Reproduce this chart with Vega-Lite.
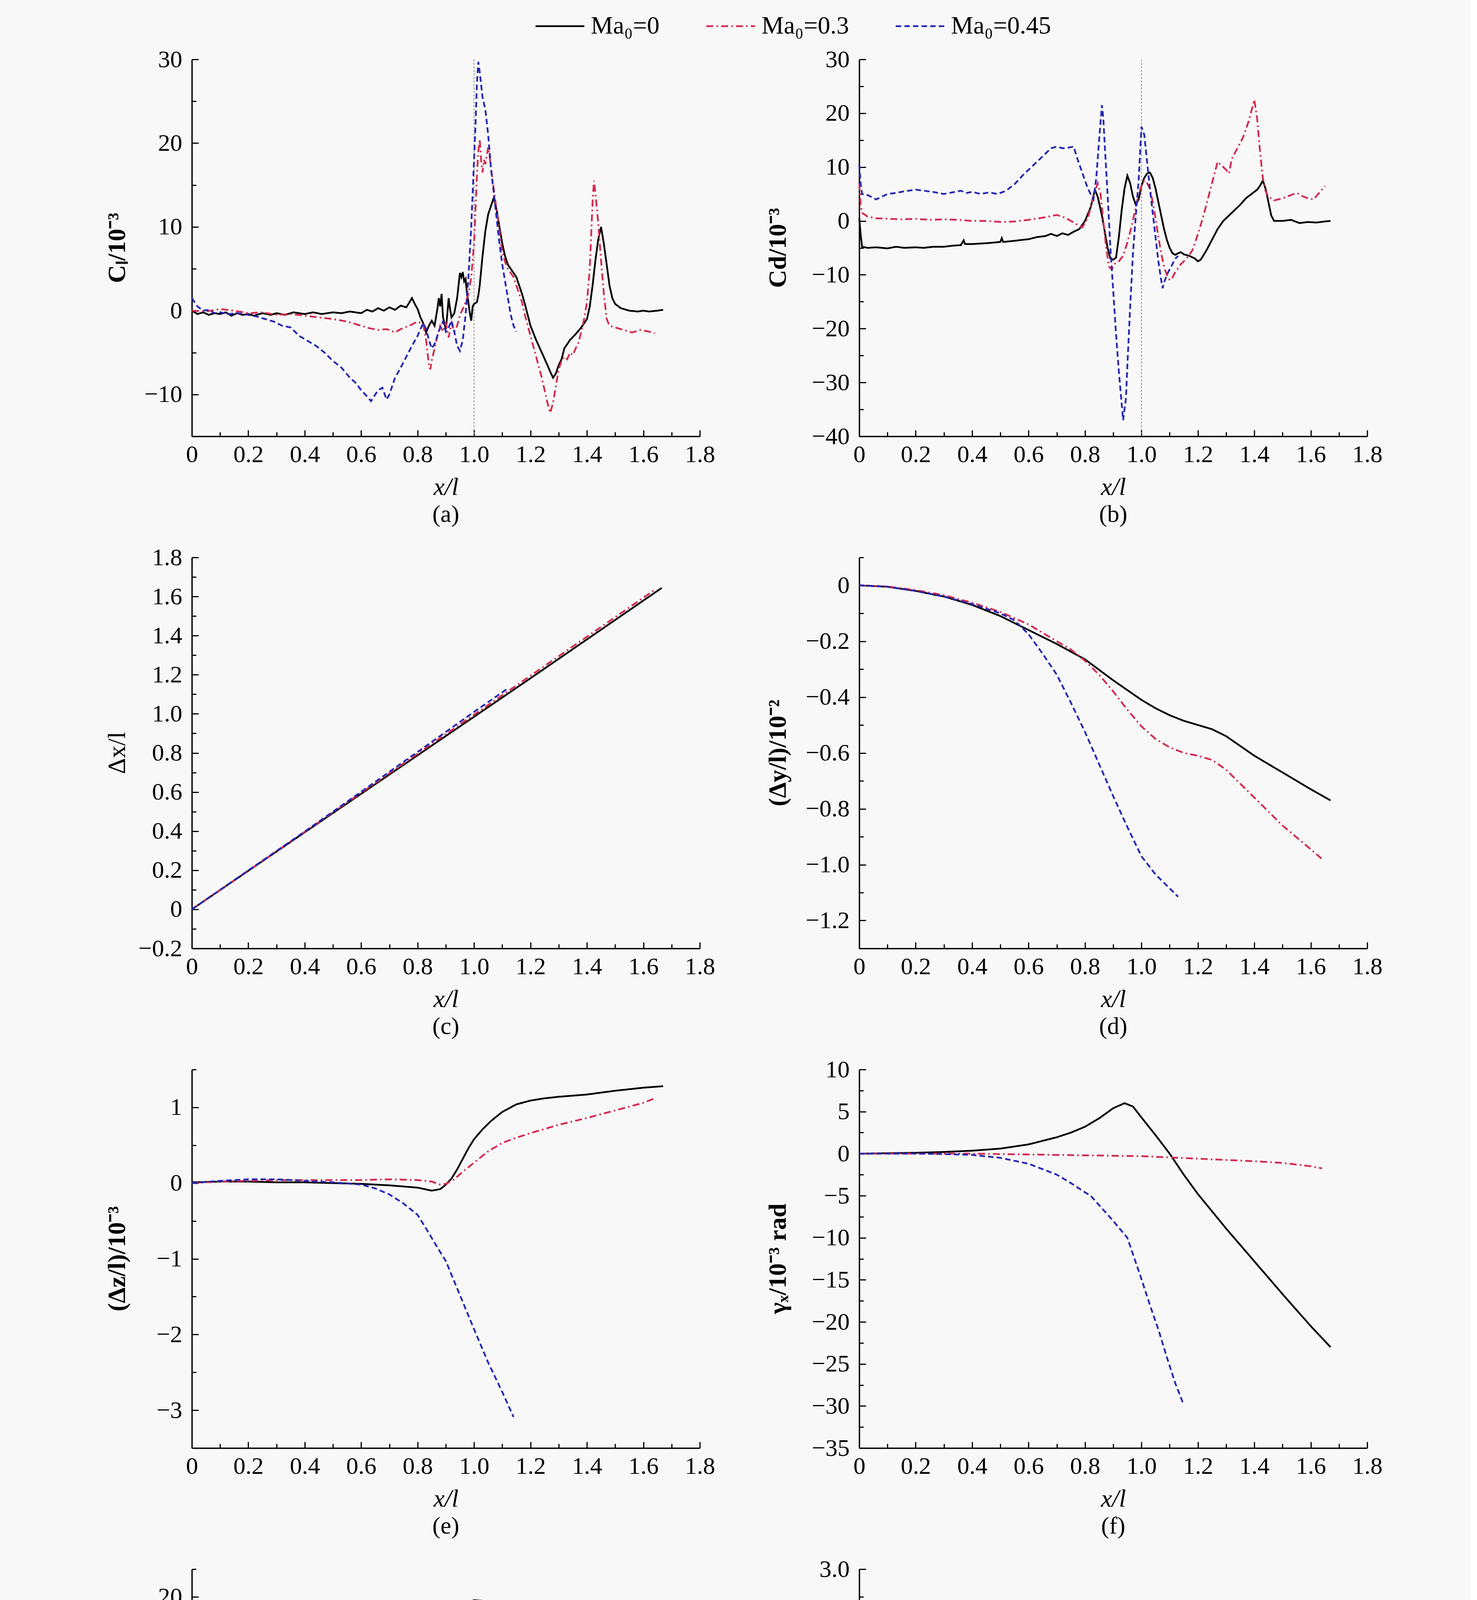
{
  "$schema": "https://vega.github.io/schema/vega-lite/v6.json",
  "background": "#f8f8f8",
  "padding": {"left": 268, "top": 2, "right": 225, "bottom": 4},
  "columns": 2,
  "bounds": "flush",
  "spacing": {"row": 310, "column": 408},
  "data": {
    "values": [
      {"panel":"a","series":"Ma₀=0","x":0,"y":0},{"panel":"a","series":"Ma₀=0","x":0.02,"y":-0.4},{"panel":"a","series":"Ma₀=0","x":0.04,"y":-0.2},{"panel":"a","series":"Ma₀=0","x":0.06,"y":-0.5},{"panel":"a","series":"Ma₀=0","x":0.08,"y":-0.3},{"panel":"a","series":"Ma₀=0","x":0.1,"y":-0.4},{"panel":"a","series":"Ma₀=0","x":0.12,"y":-0.2},{"panel":"a","series":"Ma₀=0","x":0.14,"y":-0.6},{"panel":"a","series":"Ma₀=0","x":0.16,"y":-0.3},{"panel":"a","series":"Ma₀=0","x":0.18,"y":-0.5},{"panel":"a","series":"Ma₀=0","x":0.2,"y":-0.4},{"panel":"a","series":"Ma₀=0","x":0.22,"y":-0.6},{"panel":"a","series":"Ma₀=0","x":0.25,"y":-0.3},{"panel":"a","series":"Ma₀=0","x":0.28,"y":-0.5},{"panel":"a","series":"Ma₀=0","x":0.3,"y":-0.3},{"panel":"a","series":"Ma₀=0","x":0.33,"y":-0.5},{"panel":"a","series":"Ma₀=0","x":0.36,"y":-0.2},{"panel":"a","series":"Ma₀=0","x":0.4,"y":-0.4},{"panel":"a","series":"Ma₀=0","x":0.43,"y":-0.2},{"panel":"a","series":"Ma₀=0","x":0.46,"y":-0.4},{"panel":"a","series":"Ma₀=0","x":0.5,"y":-0.2},{"panel":"a","series":"Ma₀=0","x":0.53,"y":-0.3},{"panel":"a","series":"Ma₀=0","x":0.56,"y":-0.1},{"panel":"a","series":"Ma₀=0","x":0.6,"y":-0.3},{"panel":"a","series":"Ma₀=0","x":0.62,"y":0.1},{"panel":"a","series":"Ma₀=0","x":0.64,"y":-0.1},{"panel":"a","series":"Ma₀=0","x":0.66,"y":0.3},{"panel":"a","series":"Ma₀=0","x":0.68,"y":0},{"panel":"a","series":"Ma₀=0","x":0.7,"y":0.4},{"panel":"a","series":"Ma₀=0","x":0.72,"y":0.1},{"panel":"a","series":"Ma₀=0","x":0.74,"y":0.6},{"panel":"a","series":"Ma₀=0","x":0.76,"y":0.4},{"panel":"a","series":"Ma₀=0","x":0.78,"y":1.5},{"panel":"a","series":"Ma₀=0","x":0.79,"y":0.8},{"panel":"a","series":"Ma₀=0","x":0.8,"y":0.2},{"panel":"a","series":"Ma₀=0","x":0.81,"y":-0.8},{"panel":"a","series":"Ma₀=0","x":0.82,"y":-1.5},{"panel":"a","series":"Ma₀=0","x":0.83,"y":-2.6},{"panel":"a","series":"Ma₀=0","x":0.84,"y":-1.8},{"panel":"a","series":"Ma₀=0","x":0.85,"y":-1.2},{"panel":"a","series":"Ma₀=0","x":0.86,"y":-1.8},{"panel":"a","series":"Ma₀=0","x":0.87,"y":0.2},{"panel":"a","series":"Ma₀=0","x":0.875,"y":1.5},{"panel":"a","series":"Ma₀=0","x":0.88,"y":0.5},{"panel":"a","series":"Ma₀=0","x":0.885,"y":2},{"panel":"a","series":"Ma₀=0","x":0.89,"y":-0.8},{"panel":"a","series":"Ma₀=0","x":0.9,"y":-2.2},{"panel":"a","series":"Ma₀=0","x":0.905,"y":-0.5},{"panel":"a","series":"Ma₀=0","x":0.91,"y":1.5},{"panel":"a","series":"Ma₀=0","x":0.915,"y":0.2},{"panel":"a","series":"Ma₀=0","x":0.92,"y":-0.8},{"panel":"a","series":"Ma₀=0","x":0.93,"y":-0.3},{"panel":"a","series":"Ma₀=0","x":0.94,"y":1.5},{"panel":"a","series":"Ma₀=0","x":0.95,"y":4.5},{"panel":"a","series":"Ma₀=0","x":0.955,"y":4},{"panel":"a","series":"Ma₀=0","x":0.96,"y":4.6},{"panel":"a","series":"Ma₀=0","x":0.965,"y":3.5},{"panel":"a","series":"Ma₀=0","x":0.97,"y":3.8},{"panel":"a","series":"Ma₀=0","x":0.975,"y":2},{"panel":"a","series":"Ma₀=0","x":0.98,"y":1},{"panel":"a","series":"Ma₀=0","x":0.985,"y":-0.3},{"panel":"a","series":"Ma₀=0","x":0.99,"y":-1.2},{"panel":"a","series":"Ma₀=0","x":0.995,"y":0.5},{"panel":"a","series":"Ma₀=0","x":1,"y":0.8},{"panel":"a","series":"Ma₀=0","x":1.01,"y":1},{"panel":"a","series":"Ma₀=0","x":1.015,"y":1.8},{"panel":"a","series":"Ma₀=0","x":1.02,"y":3},{"panel":"a","series":"Ma₀=0","x":1.03,"y":6.5},{"panel":"a","series":"Ma₀=0","x":1.04,"y":9.5},{"panel":"a","series":"Ma₀=0","x":1.05,"y":11.5},{"panel":"a","series":"Ma₀=0","x":1.06,"y":12.5},{"panel":"a","series":"Ma₀=0","x":1.07,"y":13.5},{"panel":"a","series":"Ma₀=0","x":1.075,"y":12.8},{"panel":"a","series":"Ma₀=0","x":1.08,"y":12},{"panel":"a","series":"Ma₀=0","x":1.09,"y":10},{"panel":"a","series":"Ma₀=0","x":1.1,"y":8},{"panel":"a","series":"Ma₀=0","x":1.11,"y":6.5},{"panel":"a","series":"Ma₀=0","x":1.12,"y":5.5},{"panel":"a","series":"Ma₀=0","x":1.13,"y":5},{"panel":"a","series":"Ma₀=0","x":1.14,"y":4.5},{"panel":"a","series":"Ma₀=0","x":1.15,"y":4},{"panel":"a","series":"Ma₀=0","x":1.16,"y":3},{"panel":"a","series":"Ma₀=0","x":1.17,"y":2},{"panel":"a","series":"Ma₀=0","x":1.18,"y":0.8},{"panel":"a","series":"Ma₀=0","x":1.19,"y":-0.5},{"panel":"a","series":"Ma₀=0","x":1.2,"y":-1.8},{"panel":"a","series":"Ma₀=0","x":1.22,"y":-3.5},{"panel":"a","series":"Ma₀=0","x":1.24,"y":-5},{"panel":"a","series":"Ma₀=0","x":1.26,"y":-6.5},{"panel":"a","series":"Ma₀=0","x":1.27,"y":-7.3},{"panel":"a","series":"Ma₀=0","x":1.28,"y":-8},{"panel":"a","series":"Ma₀=0","x":1.29,"y":-7.5},{"panel":"a","series":"Ma₀=0","x":1.3,"y":-6.5},{"panel":"a","series":"Ma₀=0","x":1.31,"y":-5.8},{"panel":"a","series":"Ma₀=0","x":1.32,"y":-4.5},{"panel":"a","series":"Ma₀=0","x":1.34,"y":-3.5},{"panel":"a","series":"Ma₀=0","x":1.36,"y":-2.8},{"panel":"a","series":"Ma₀=0","x":1.38,"y":-2},{"panel":"a","series":"Ma₀=0","x":1.39,"y":-1.5},{"panel":"a","series":"Ma₀=0","x":1.4,"y":-1},{"panel":"a","series":"Ma₀=0","x":1.41,"y":0.5},{"panel":"a","series":"Ma₀=0","x":1.42,"y":3},{"panel":"a","series":"Ma₀=0","x":1.43,"y":6},{"panel":"a","series":"Ma₀=0","x":1.44,"y":8.5},{"panel":"a","series":"Ma₀=0","x":1.45,"y":10},{"panel":"a","series":"Ma₀=0","x":1.46,"y":8},{"panel":"a","series":"Ma₀=0","x":1.47,"y":5.5},{"panel":"a","series":"Ma₀=0","x":1.48,"y":3},{"panel":"a","series":"Ma₀=0","x":1.49,"y":1.5},{"panel":"a","series":"Ma₀=0","x":1.5,"y":0.8},{"panel":"a","series":"Ma₀=0","x":1.52,"y":0.3},{"panel":"a","series":"Ma₀=0","x":1.55,"y":0},{"panel":"a","series":"Ma₀=0","x":1.58,"y":-0.1},{"panel":"a","series":"Ma₀=0","x":1.6,"y":0},{"panel":"a","series":"Ma₀=0","x":1.62,"y":-0.1},{"panel":"a","series":"Ma₀=0","x":1.65,"y":0},{"panel":"a","series":"Ma₀=0","x":1.67,"y":0.1},
      {"panel":"a","series":"Ma₀=0.3","x":0,"y":0},{"panel":"a","series":"Ma₀=0.3","x":0.05,"y":-0.1},{"panel":"a","series":"Ma₀=0.3","x":0.1,"y":0.2},{"panel":"a","series":"Ma₀=0.3","x":0.15,"y":0},{"panel":"a","series":"Ma₀=0.3","x":0.2,"y":-0.3},{"panel":"a","series":"Ma₀=0.3","x":0.25,"y":-0.2},{"panel":"a","series":"Ma₀=0.3","x":0.3,"y":-0.5},{"panel":"a","series":"Ma₀=0.3","x":0.35,"y":-0.4},{"panel":"a","series":"Ma₀=0.3","x":0.4,"y":-0.6},{"panel":"a","series":"Ma₀=0.3","x":0.45,"y":-0.8},{"panel":"a","series":"Ma₀=0.3","x":0.5,"y":-1},{"panel":"a","series":"Ma₀=0.3","x":0.55,"y":-1.3},{"panel":"a","series":"Ma₀=0.3","x":0.6,"y":-1.8},{"panel":"a","series":"Ma₀=0.3","x":0.63,"y":-2.1},{"panel":"a","series":"Ma₀=0.3","x":0.66,"y":-2.3},{"panel":"a","series":"Ma₀=0.3","x":0.69,"y":-2.2},{"panel":"a","series":"Ma₀=0.3","x":0.72,"y":-2.6},{"panel":"a","series":"Ma₀=0.3","x":0.74,"y":-2.2},{"panel":"a","series":"Ma₀=0.3","x":0.77,"y":-1.8},{"panel":"a","series":"Ma₀=0.3","x":0.8,"y":-1.3},{"panel":"a","series":"Ma₀=0.3","x":0.82,"y":-1.6},{"panel":"a","series":"Ma₀=0.3","x":0.83,"y":-3.5},{"panel":"a","series":"Ma₀=0.3","x":0.84,"y":-6.5},{"panel":"a","series":"Ma₀=0.3","x":0.845,"y":-7},{"panel":"a","series":"Ma₀=0.3","x":0.85,"y":-6},{"panel":"a","series":"Ma₀=0.3","x":0.86,"y":-4.5},{"panel":"a","series":"Ma₀=0.3","x":0.87,"y":-3},{"panel":"a","series":"Ma₀=0.3","x":0.88,"y":-1.8},{"panel":"a","series":"Ma₀=0.3","x":0.89,"y":-2.5},{"panel":"a","series":"Ma₀=0.3","x":0.9,"y":-1.5},{"panel":"a","series":"Ma₀=0.3","x":0.91,"y":-3.2},{"panel":"a","series":"Ma₀=0.3","x":0.92,"y":-1.5},{"panel":"a","series":"Ma₀=0.3","x":0.93,"y":-2.5},{"panel":"a","series":"Ma₀=0.3","x":0.94,"y":-1.8},{"panel":"a","series":"Ma₀=0.3","x":0.95,"y":-0.5},{"panel":"a","series":"Ma₀=0.3","x":0.96,"y":0.2},{"panel":"a","series":"Ma₀=0.3","x":0.97,"y":1},{"panel":"a","series":"Ma₀=0.3","x":0.98,"y":2},{"panel":"a","series":"Ma₀=0.3","x":0.99,"y":4},{"panel":"a","series":"Ma₀=0.3","x":1,"y":8},{"panel":"a","series":"Ma₀=0.3","x":1.005,"y":12},{"panel":"a","series":"Ma₀=0.3","x":1.01,"y":16},{"panel":"a","series":"Ma₀=0.3","x":1.015,"y":19},{"panel":"a","series":"Ma₀=0.3","x":1.02,"y":20.5},{"panel":"a","series":"Ma₀=0.3","x":1.025,"y":18},{"panel":"a","series":"Ma₀=0.3","x":1.03,"y":16.5},{"panel":"a","series":"Ma₀=0.3","x":1.035,"y":18},{"panel":"a","series":"Ma₀=0.3","x":1.04,"y":17.5},{"panel":"a","series":"Ma₀=0.3","x":1.05,"y":19.5},{"panel":"a","series":"Ma₀=0.3","x":1.055,"y":18.5},{"panel":"a","series":"Ma₀=0.3","x":1.06,"y":17},{"panel":"a","series":"Ma₀=0.3","x":1.07,"y":14.5},{"panel":"a","series":"Ma₀=0.3","x":1.08,"y":12},{"panel":"a","series":"Ma₀=0.3","x":1.09,"y":9.5},{"panel":"a","series":"Ma₀=0.3","x":1.1,"y":7},{"panel":"a","series":"Ma₀=0.3","x":1.11,"y":5.8},{"panel":"a","series":"Ma₀=0.3","x":1.12,"y":5},{"panel":"a","series":"Ma₀=0.3","x":1.13,"y":4.5},{"panel":"a","series":"Ma₀=0.3","x":1.14,"y":4},{"panel":"a","series":"Ma₀=0.3","x":1.15,"y":3},{"panel":"a","series":"Ma₀=0.3","x":1.16,"y":2},{"panel":"a","series":"Ma₀=0.3","x":1.17,"y":1},{"panel":"a","series":"Ma₀=0.3","x":1.18,"y":-0.5},{"panel":"a","series":"Ma₀=0.3","x":1.2,"y":-3},{"panel":"a","series":"Ma₀=0.3","x":1.22,"y":-5.5},{"panel":"a","series":"Ma₀=0.3","x":1.24,"y":-8},{"panel":"a","series":"Ma₀=0.3","x":1.25,"y":-9.5},{"panel":"a","series":"Ma₀=0.3","x":1.26,"y":-11},{"panel":"a","series":"Ma₀=0.3","x":1.27,"y":-12.2},{"panel":"a","series":"Ma₀=0.3","x":1.28,"y":-11},{"panel":"a","series":"Ma₀=0.3","x":1.29,"y":-9},{"panel":"a","series":"Ma₀=0.3","x":1.3,"y":-7},{"panel":"a","series":"Ma₀=0.3","x":1.31,"y":-6},{"panel":"a","series":"Ma₀=0.3","x":1.32,"y":-5.5},{"panel":"a","series":"Ma₀=0.3","x":1.33,"y":-5.8},{"panel":"a","series":"Ma₀=0.3","x":1.34,"y":-5},{"panel":"a","series":"Ma₀=0.3","x":1.35,"y":-5.3},{"panel":"a","series":"Ma₀=0.3","x":1.36,"y":-4.5},{"panel":"a","series":"Ma₀=0.3","x":1.37,"y":-3.8},{"panel":"a","series":"Ma₀=0.3","x":1.38,"y":-2.5},{"panel":"a","series":"Ma₀=0.3","x":1.39,"y":-1},{"panel":"a","series":"Ma₀=0.3","x":1.4,"y":1},{"panel":"a","series":"Ma₀=0.3","x":1.41,"y":5},{"panel":"a","series":"Ma₀=0.3","x":1.415,"y":9},{"panel":"a","series":"Ma₀=0.3","x":1.42,"y":13},{"panel":"a","series":"Ma₀=0.3","x":1.425,"y":15.5},{"panel":"a","series":"Ma₀=0.3","x":1.43,"y":14},{"panel":"a","series":"Ma₀=0.3","x":1.44,"y":10.5},{"panel":"a","series":"Ma₀=0.3","x":1.45,"y":6},{"panel":"a","series":"Ma₀=0.3","x":1.46,"y":2},{"panel":"a","series":"Ma₀=0.3","x":1.47,"y":-1},{"panel":"a","series":"Ma₀=0.3","x":1.48,"y":-1.8},{"panel":"a","series":"Ma₀=0.3","x":1.5,"y":-2},{"panel":"a","series":"Ma₀=0.3","x":1.53,"y":-2.3},{"panel":"a","series":"Ma₀=0.3","x":1.56,"y":-2.6},{"panel":"a","series":"Ma₀=0.3","x":1.59,"y":-2.3},{"panel":"a","series":"Ma₀=0.3","x":1.62,"y":-2.5},{"panel":"a","series":"Ma₀=0.3","x":1.64,"y":-2.7},
      {"panel":"a","series":"Ma₀=0.45","x":0,"y":1.5},{"panel":"a","series":"Ma₀=0.45","x":0.01,"y":1},{"panel":"a","series":"Ma₀=0.45","x":0.02,"y":0.5},{"panel":"a","series":"Ma₀=0.45","x":0.04,"y":0},{"panel":"a","series":"Ma₀=0.45","x":0.06,"y":0.1},{"panel":"a","series":"Ma₀=0.45","x":0.08,"y":-0.3},{"panel":"a","series":"Ma₀=0.45","x":0.1,"y":-0.2},{"panel":"a","series":"Ma₀=0.45","x":0.13,"y":-0.4},{"panel":"a","series":"Ma₀=0.45","x":0.16,"y":-0.3},{"panel":"a","series":"Ma₀=0.45","x":0.2,"y":-0.5},{"panel":"a","series":"Ma₀=0.45","x":0.23,"y":-0.7},{"panel":"a","series":"Ma₀=0.45","x":0.26,"y":-1},{"panel":"a","series":"Ma₀=0.45","x":0.29,"y":-1.3},{"panel":"a","series":"Ma₀=0.45","x":0.32,"y":-1.8},{"panel":"a","series":"Ma₀=0.45","x":0.35,"y":-2},{"panel":"a","series":"Ma₀=0.45","x":0.38,"y":-3},{"panel":"a","series":"Ma₀=0.45","x":0.41,"y":-3.6},{"panel":"a","series":"Ma₀=0.45","x":0.44,"y":-4.2},{"panel":"a","series":"Ma₀=0.45","x":0.47,"y":-5},{"panel":"a","series":"Ma₀=0.45","x":0.5,"y":-6},{"panel":"a","series":"Ma₀=0.45","x":0.53,"y":-6.8},{"panel":"a","series":"Ma₀=0.45","x":0.56,"y":-8},{"panel":"a","series":"Ma₀=0.45","x":0.58,"y":-8.6},{"panel":"a","series":"Ma₀=0.45","x":0.6,"y":-9.5},{"panel":"a","series":"Ma₀=0.45","x":0.62,"y":-10.2},{"panel":"a","series":"Ma₀=0.45","x":0.635,"y":-10.8},{"panel":"a","series":"Ma₀=0.45","x":0.65,"y":-10},{"panel":"a","series":"Ma₀=0.45","x":0.66,"y":-9.5},{"panel":"a","series":"Ma₀=0.45","x":0.675,"y":-9.2},{"panel":"a","series":"Ma₀=0.45","x":0.69,"y":-10.6},{"panel":"a","series":"Ma₀=0.45","x":0.7,"y":-10},{"panel":"a","series":"Ma₀=0.45","x":0.72,"y":-8},{"panel":"a","series":"Ma₀=0.45","x":0.74,"y":-6.8},{"panel":"a","series":"Ma₀=0.45","x":0.76,"y":-5.5},{"panel":"a","series":"Ma₀=0.45","x":0.78,"y":-4.2},{"panel":"a","series":"Ma₀=0.45","x":0.8,"y":-3},{"panel":"a","series":"Ma₀=0.45","x":0.81,"y":-2.2},{"panel":"a","series":"Ma₀=0.45","x":0.82,"y":-1.5},{"panel":"a","series":"Ma₀=0.45","x":0.83,"y":-2.2},{"panel":"a","series":"Ma₀=0.45","x":0.84,"y":-3.5},{"panel":"a","series":"Ma₀=0.45","x":0.85,"y":-4.5},{"panel":"a","series":"Ma₀=0.45","x":0.86,"y":-4},{"panel":"a","series":"Ma₀=0.45","x":0.87,"y":-3},{"panel":"a","series":"Ma₀=0.45","x":0.88,"y":-2},{"panel":"a","series":"Ma₀=0.45","x":0.89,"y":-1.3},{"panel":"a","series":"Ma₀=0.45","x":0.9,"y":-2.5},{"panel":"a","series":"Ma₀=0.45","x":0.91,"y":-2},{"panel":"a","series":"Ma₀=0.45","x":0.92,"y":-1.2},{"panel":"a","series":"Ma₀=0.45","x":0.93,"y":-2.5},{"panel":"a","series":"Ma₀=0.45","x":0.94,"y":-4.2},{"panel":"a","series":"Ma₀=0.45","x":0.95,"y":-4.8},{"panel":"a","series":"Ma₀=0.45","x":0.96,"y":-3.5},{"panel":"a","series":"Ma₀=0.45","x":0.97,"y":-0.5},{"panel":"a","series":"Ma₀=0.45","x":0.98,"y":4},{"panel":"a","series":"Ma₀=0.45","x":0.99,"y":10},{"panel":"a","series":"Ma₀=0.45","x":1,"y":18},{"panel":"a","series":"Ma₀=0.45","x":1.005,"y":22},{"panel":"a","series":"Ma₀=0.45","x":1.01,"y":27},{"panel":"a","series":"Ma₀=0.45","x":1.015,"y":29.7},{"panel":"a","series":"Ma₀=0.45","x":1.02,"y":28.5},{"panel":"a","series":"Ma₀=0.45","x":1.03,"y":25.5},{"panel":"a","series":"Ma₀=0.45","x":1.04,"y":24},{"panel":"a","series":"Ma₀=0.45","x":1.05,"y":21},{"panel":"a","series":"Ma₀=0.45","x":1.06,"y":17},{"panel":"a","series":"Ma₀=0.45","x":1.07,"y":14},{"panel":"a","series":"Ma₀=0.45","x":1.08,"y":11},{"panel":"a","series":"Ma₀=0.45","x":1.09,"y":8},{"panel":"a","series":"Ma₀=0.45","x":1.1,"y":5.5},{"panel":"a","series":"Ma₀=0.45","x":1.11,"y":3.5},{"panel":"a","series":"Ma₀=0.45","x":1.12,"y":1.5},{"panel":"a","series":"Ma₀=0.45","x":1.13,"y":-0.5},{"panel":"a","series":"Ma₀=0.45","x":1.14,"y":-1.8},{"panel":"a","series":"Ma₀=0.45","x":1.15,"y":-2.5},
      {"panel":"b","series":"Ma₀=0","x":0,"y":0.5},{"panel":"b","series":"Ma₀=0","x":0.005,"y":-2.5},{"panel":"b","series":"Ma₀=0","x":0.01,"y":-4.8},{"panel":"b","series":"Ma₀=0","x":0.03,"y":-5},{"panel":"b","series":"Ma₀=0","x":0.06,"y":-4.9},{"panel":"b","series":"Ma₀=0","x":0.1,"y":-5.1},{"panel":"b","series":"Ma₀=0","x":0.13,"y":-4.8},{"panel":"b","series":"Ma₀=0","x":0.16,"y":-5},{"panel":"b","series":"Ma₀=0","x":0.2,"y":-4.9},{"panel":"b","series":"Ma₀=0","x":0.23,"y":-5},{"panel":"b","series":"Ma₀=0","x":0.26,"y":-4.8},{"panel":"b","series":"Ma₀=0","x":0.3,"y":-4.8},{"panel":"b","series":"Ma₀=0","x":0.33,"y":-4.6},{"panel":"b","series":"Ma₀=0","x":0.36,"y":-4.5},{"panel":"b","series":"Ma₀=0","x":0.37,"y":-3.6},{"panel":"b","series":"Ma₀=0","x":0.375,"y":-4.3},{"panel":"b","series":"Ma₀=0","x":0.4,"y":-4.3},{"panel":"b","series":"Ma₀=0","x":0.43,"y":-4.2},{"panel":"b","series":"Ma₀=0","x":0.46,"y":-4.1},{"panel":"b","series":"Ma₀=0","x":0.5,"y":-3.9},{"panel":"b","series":"Ma₀=0","x":0.505,"y":-3.2},{"panel":"b","series":"Ma₀=0","x":0.51,"y":-3.9},{"panel":"b","series":"Ma₀=0","x":0.55,"y":-3.7},{"panel":"b","series":"Ma₀=0","x":0.58,"y":-3.5},{"panel":"b","series":"Ma₀=0","x":0.6,"y":-3.4},{"panel":"b","series":"Ma₀=0","x":0.63,"y":-3},{"panel":"b","series":"Ma₀=0","x":0.66,"y":-2.8},{"panel":"b","series":"Ma₀=0","x":0.68,"y":-2.4},{"panel":"b","series":"Ma₀=0","x":0.7,"y":-2.8},{"panel":"b","series":"Ma₀=0","x":0.72,"y":-2.3},{"panel":"b","series":"Ma₀=0","x":0.74,"y":-2.6},{"panel":"b","series":"Ma₀=0","x":0.76,"y":-2},{"panel":"b","series":"Ma₀=0","x":0.78,"y":-1.5},{"panel":"b","series":"Ma₀=0","x":0.8,"y":0},{"panel":"b","series":"Ma₀=0","x":0.82,"y":2.5},{"panel":"b","series":"Ma₀=0","x":0.835,"y":5.8},{"panel":"b","series":"Ma₀=0","x":0.845,"y":4.5},{"panel":"b","series":"Ma₀=0","x":0.86,"y":1},{"panel":"b","series":"Ma₀=0","x":0.87,"y":-2},{"panel":"b","series":"Ma₀=0","x":0.88,"y":-5},{"panel":"b","series":"Ma₀=0","x":0.89,"y":-7},{"panel":"b","series":"Ma₀=0","x":0.9,"y":-7.2},{"panel":"b","series":"Ma₀=0","x":0.91,"y":-6.8},{"panel":"b","series":"Ma₀=0","x":0.92,"y":-3},{"panel":"b","series":"Ma₀=0","x":0.93,"y":2},{"panel":"b","series":"Ma₀=0","x":0.94,"y":6},{"panel":"b","series":"Ma₀=0","x":0.95,"y":8.4},{"panel":"b","series":"Ma₀=0","x":0.96,"y":7},{"panel":"b","series":"Ma₀=0","x":0.97,"y":4.5},{"panel":"b","series":"Ma₀=0","x":0.98,"y":3},{"panel":"b","series":"Ma₀=0","x":0.99,"y":4},{"panel":"b","series":"Ma₀=0","x":1,"y":6.5},{"panel":"b","series":"Ma₀=0","x":1.01,"y":8},{"panel":"b","series":"Ma₀=0","x":1.02,"y":8.8},{"panel":"b","series":"Ma₀=0","x":1.03,"y":9},{"panel":"b","series":"Ma₀=0","x":1.04,"y":8},{"panel":"b","series":"Ma₀=0","x":1.05,"y":6},{"panel":"b","series":"Ma₀=0","x":1.06,"y":3.5},{"panel":"b","series":"Ma₀=0","x":1.07,"y":1},{"panel":"b","series":"Ma₀=0","x":1.08,"y":-1.5},{"panel":"b","series":"Ma₀=0","x":1.09,"y":-3.5},{"panel":"b","series":"Ma₀=0","x":1.1,"y":-5},{"panel":"b","series":"Ma₀=0","x":1.11,"y":-6},{"panel":"b","series":"Ma₀=0","x":1.12,"y":-6.3},{"panel":"b","series":"Ma₀=0","x":1.13,"y":-6},{"panel":"b","series":"Ma₀=0","x":1.14,"y":-5.8},{"panel":"b","series":"Ma₀=0","x":1.15,"y":-6.2},{"panel":"b","series":"Ma₀=0","x":1.17,"y":-6.5},{"panel":"b","series":"Ma₀=0","x":1.19,"y":-7},{"panel":"b","series":"Ma₀=0","x":1.2,"y":-7.5},{"panel":"b","series":"Ma₀=0","x":1.21,"y":-7.2},{"panel":"b","series":"Ma₀=0","x":1.23,"y":-5.5},{"panel":"b","series":"Ma₀=0","x":1.25,"y":-3.5},{"panel":"b","series":"Ma₀=0","x":1.27,"y":-1.5},{"panel":"b","series":"Ma₀=0","x":1.29,"y":0},{"panel":"b","series":"Ma₀=0","x":1.31,"y":1},{"panel":"b","series":"Ma₀=0","x":1.33,"y":2},{"panel":"b","series":"Ma₀=0","x":1.35,"y":3},{"panel":"b","series":"Ma₀=0","x":1.37,"y":4.2},{"panel":"b","series":"Ma₀=0","x":1.39,"y":5},{"panel":"b","series":"Ma₀=0","x":1.41,"y":5.8},{"panel":"b","series":"Ma₀=0","x":1.42,"y":6.5},{"panel":"b","series":"Ma₀=0","x":1.43,"y":7.5},{"panel":"b","series":"Ma₀=0","x":1.44,"y":6},{"panel":"b","series":"Ma₀=0","x":1.45,"y":3.5},{"panel":"b","series":"Ma₀=0","x":1.46,"y":1},{"panel":"b","series":"Ma₀=0","x":1.47,"y":0},{"panel":"b","series":"Ma₀=0","x":1.5,"y":0},{"panel":"b","series":"Ma₀=0","x":1.53,"y":0.2},{"panel":"b","series":"Ma₀=0","x":1.56,"y":-0.4},{"panel":"b","series":"Ma₀=0","x":1.59,"y":-0.2},{"panel":"b","series":"Ma₀=0","x":1.62,"y":-0.3},{"panel":"b","series":"Ma₀=0","x":1.65,"y":-0.1},{"panel":"b","series":"Ma₀=0","x":1.67,"y":0},
      {"panel":"b","series":"Ma₀=0.3","x":0,"y":7},{"panel":"b","series":"Ma₀=0.3","x":0.005,"y":3},{"panel":"b","series":"Ma₀=0.3","x":0.01,"y":1.5},{"panel":"b","series":"Ma₀=0.3","x":0.03,"y":0.8},{"panel":"b","series":"Ma₀=0.3","x":0.06,"y":0.5},{"panel":"b","series":"Ma₀=0.3","x":0.1,"y":0.4},{"panel":"b","series":"Ma₀=0.3","x":0.15,"y":0.3},{"panel":"b","series":"Ma₀=0.3","x":0.2,"y":0.4},{"panel":"b","series":"Ma₀=0.3","x":0.25,"y":0.2},{"panel":"b","series":"Ma₀=0.3","x":0.3,"y":0.3},{"panel":"b","series":"Ma₀=0.3","x":0.35,"y":0.2},{"panel":"b","series":"Ma₀=0.3","x":0.4,"y":0},{"panel":"b","series":"Ma₀=0.3","x":0.45,"y":0},{"panel":"b","series":"Ma₀=0.3","x":0.5,"y":-0.2},{"panel":"b","series":"Ma₀=0.3","x":0.55,"y":-0.1},{"panel":"b","series":"Ma₀=0.3","x":0.6,"y":0.2},{"panel":"b","series":"Ma₀=0.3","x":0.65,"y":0.6},{"panel":"b","series":"Ma₀=0.3","x":0.7,"y":1.1},{"panel":"b","series":"Ma₀=0.3","x":0.73,"y":0.6},{"panel":"b","series":"Ma₀=0.3","x":0.76,"y":-0.3},{"panel":"b","series":"Ma₀=0.3","x":0.79,"y":-1.2},{"panel":"b","series":"Ma₀=0.3","x":0.81,"y":0.5},{"panel":"b","series":"Ma₀=0.3","x":0.83,"y":4.5},{"panel":"b","series":"Ma₀=0.3","x":0.845,"y":7},{"panel":"b","series":"Ma₀=0.3","x":0.855,"y":5},{"panel":"b","series":"Ma₀=0.3","x":0.865,"y":0},{"panel":"b","series":"Ma₀=0.3","x":0.875,"y":-5},{"panel":"b","series":"Ma₀=0.3","x":0.885,"y":-8.5},{"panel":"b","series":"Ma₀=0.3","x":0.895,"y":-9},{"panel":"b","series":"Ma₀=0.3","x":0.905,"y":-8},{"panel":"b","series":"Ma₀=0.3","x":0.92,"y":-7.5},{"panel":"b","series":"Ma₀=0.3","x":0.935,"y":-6.5},{"panel":"b","series":"Ma₀=0.3","x":0.95,"y":-4},{"panel":"b","series":"Ma₀=0.3","x":0.965,"y":-1},{"panel":"b","series":"Ma₀=0.3","x":0.98,"y":2.5},{"panel":"b","series":"Ma₀=0.3","x":0.99,"y":5},{"panel":"b","series":"Ma₀=0.3","x":1,"y":6.5},{"panel":"b","series":"Ma₀=0.3","x":1.01,"y":7.5},{"panel":"b","series":"Ma₀=0.3","x":1.02,"y":7},{"panel":"b","series":"Ma₀=0.3","x":1.03,"y":6},{"panel":"b","series":"Ma₀=0.3","x":1.04,"y":3.5},{"panel":"b","series":"Ma₀=0.3","x":1.05,"y":0.5},{"panel":"b","series":"Ma₀=0.3","x":1.06,"y":-3},{"panel":"b","series":"Ma₀=0.3","x":1.07,"y":-6},{"panel":"b","series":"Ma₀=0.3","x":1.08,"y":-8.5},{"panel":"b","series":"Ma₀=0.3","x":1.09,"y":-10},{"panel":"b","series":"Ma₀=0.3","x":1.1,"y":-11},{"panel":"b","series":"Ma₀=0.3","x":1.11,"y":-10.5},{"panel":"b","series":"Ma₀=0.3","x":1.12,"y":-9.5},{"panel":"b","series":"Ma₀=0.3","x":1.14,"y":-8},{"panel":"b","series":"Ma₀=0.3","x":1.16,"y":-7},{"panel":"b","series":"Ma₀=0.3","x":1.18,"y":-5.5},{"panel":"b","series":"Ma₀=0.3","x":1.2,"y":-2.5},{"panel":"b","series":"Ma₀=0.3","x":1.22,"y":1},{"panel":"b","series":"Ma₀=0.3","x":1.24,"y":5},{"panel":"b","series":"Ma₀=0.3","x":1.26,"y":9},{"panel":"b","series":"Ma₀=0.3","x":1.27,"y":11},{"panel":"b","series":"Ma₀=0.3","x":1.28,"y":10.5},{"panel":"b","series":"Ma₀=0.3","x":1.3,"y":9.5},{"panel":"b","series":"Ma₀=0.3","x":1.31,"y":8.8},{"panel":"b","series":"Ma₀=0.3","x":1.32,"y":11.5},{"panel":"b","series":"Ma₀=0.3","x":1.34,"y":13.5},{"panel":"b","series":"Ma₀=0.3","x":1.36,"y":15.5},{"panel":"b","series":"Ma₀=0.3","x":1.38,"y":18.5},{"panel":"b","series":"Ma₀=0.3","x":1.39,"y":20.5},{"panel":"b","series":"Ma₀=0.3","x":1.4,"y":22.5},{"panel":"b","series":"Ma₀=0.3","x":1.41,"y":19},{"panel":"b","series":"Ma₀=0.3","x":1.42,"y":13},{"panel":"b","series":"Ma₀=0.3","x":1.43,"y":8},{"panel":"b","series":"Ma₀=0.3","x":1.44,"y":5.5},{"panel":"b","series":"Ma₀=0.3","x":1.45,"y":4.5},{"panel":"b","series":"Ma₀=0.3","x":1.47,"y":3.8},{"panel":"b","series":"Ma₀=0.3","x":1.5,"y":4.2},{"panel":"b","series":"Ma₀=0.3","x":1.53,"y":4.8},{"panel":"b","series":"Ma₀=0.3","x":1.55,"y":5.2},{"panel":"b","series":"Ma₀=0.3","x":1.57,"y":4.6},{"panel":"b","series":"Ma₀=0.3","x":1.59,"y":4.2},{"panel":"b","series":"Ma₀=0.3","x":1.61,"y":4},{"panel":"b","series":"Ma₀=0.3","x":1.63,"y":5.2},{"panel":"b","series":"Ma₀=0.3","x":1.65,"y":6.5},
      {"panel":"b","series":"Ma₀=0.45","x":0,"y":10.5},{"panel":"b","series":"Ma₀=0.45","x":0.005,"y":7},{"panel":"b","series":"Ma₀=0.45","x":0.01,"y":5},{"panel":"b","series":"Ma₀=0.45","x":0.03,"y":4.8},{"panel":"b","series":"Ma₀=0.45","x":0.06,"y":4},{"panel":"b","series":"Ma₀=0.45","x":0.08,"y":4.5},{"panel":"b","series":"Ma₀=0.45","x":0.1,"y":5},{"panel":"b","series":"Ma₀=0.45","x":0.13,"y":5.2},{"panel":"b","series":"Ma₀=0.45","x":0.16,"y":5.5},{"panel":"b","series":"Ma₀=0.45","x":0.2,"y":5.8},{"panel":"b","series":"Ma₀=0.45","x":0.23,"y":5.6},{"panel":"b","series":"Ma₀=0.45","x":0.26,"y":5.4},{"panel":"b","series":"Ma₀=0.45","x":0.3,"y":5},{"panel":"b","series":"Ma₀=0.45","x":0.33,"y":5.3},{"panel":"b","series":"Ma₀=0.45","x":0.36,"y":5.6},{"panel":"b","series":"Ma₀=0.45","x":0.38,"y":5.2},{"panel":"b","series":"Ma₀=0.45","x":0.4,"y":5.4},{"panel":"b","series":"Ma₀=0.45","x":0.43,"y":5},{"panel":"b","series":"Ma₀=0.45","x":0.46,"y":5.3},{"panel":"b","series":"Ma₀=0.45","x":0.49,"y":5},{"panel":"b","series":"Ma₀=0.45","x":0.52,"y":5.6},{"panel":"b","series":"Ma₀=0.45","x":0.55,"y":6.8},{"panel":"b","series":"Ma₀=0.45","x":0.58,"y":8.5},{"panel":"b","series":"Ma₀=0.45","x":0.61,"y":10},{"panel":"b","series":"Ma₀=0.45","x":0.64,"y":11.5},{"panel":"b","series":"Ma₀=0.45","x":0.66,"y":12.5},{"panel":"b","series":"Ma₀=0.45","x":0.68,"y":13.5},{"panel":"b","series":"Ma₀=0.45","x":0.7,"y":13.8},{"panel":"b","series":"Ma₀=0.45","x":0.72,"y":13.5},{"panel":"b","series":"Ma₀=0.45","x":0.74,"y":13.6},{"panel":"b","series":"Ma₀=0.45","x":0.76,"y":13.8},{"panel":"b","series":"Ma₀=0.45","x":0.77,"y":12},{"panel":"b","series":"Ma₀=0.45","x":0.79,"y":9},{"panel":"b","series":"Ma₀=0.45","x":0.81,"y":6},{"panel":"b","series":"Ma₀=0.45","x":0.83,"y":4},{"panel":"b","series":"Ma₀=0.45","x":0.84,"y":8},{"panel":"b","series":"Ma₀=0.45","x":0.85,"y":15},{"panel":"b","series":"Ma₀=0.45","x":0.86,"y":21.5},{"panel":"b","series":"Ma₀=0.45","x":0.865,"y":19},{"panel":"b","series":"Ma₀=0.45","x":0.87,"y":14},{"panel":"b","series":"Ma₀=0.45","x":0.88,"y":5},{"panel":"b","series":"Ma₀=0.45","x":0.89,"y":-5},{"panel":"b","series":"Ma₀=0.45","x":0.9,"y":-13},{"panel":"b","series":"Ma₀=0.45","x":0.91,"y":-21},{"panel":"b","series":"Ma₀=0.45","x":0.92,"y":-28},{"panel":"b","series":"Ma₀=0.45","x":0.93,"y":-34},{"panel":"b","series":"Ma₀=0.45","x":0.935,"y":-37},{"panel":"b","series":"Ma₀=0.45","x":0.94,"y":-35},{"panel":"b","series":"Ma₀=0.45","x":0.945,"y":-33},{"panel":"b","series":"Ma₀=0.45","x":0.95,"y":-27},{"panel":"b","series":"Ma₀=0.45","x":0.96,"y":-16},{"panel":"b","series":"Ma₀=0.45","x":0.97,"y":-6},{"panel":"b","series":"Ma₀=0.45","x":0.98,"y":1},{"panel":"b","series":"Ma₀=0.45","x":0.99,"y":7.5},{"panel":"b","series":"Ma₀=0.45","x":1,"y":17.5},{"panel":"b","series":"Ma₀=0.45","x":1.01,"y":16},{"panel":"b","series":"Ma₀=0.45","x":1.02,"y":11},{"panel":"b","series":"Ma₀=0.45","x":1.03,"y":6},{"panel":"b","series":"Ma₀=0.45","x":1.04,"y":1.5},{"panel":"b","series":"Ma₀=0.45","x":1.05,"y":-3},{"panel":"b","series":"Ma₀=0.45","x":1.06,"y":-7.5},{"panel":"b","series":"Ma₀=0.45","x":1.07,"y":-11},{"panel":"b","series":"Ma₀=0.45","x":1.075,"y":-12.5},{"panel":"b","series":"Ma₀=0.45","x":1.08,"y":-11.5},{"panel":"b","series":"Ma₀=0.45","x":1.09,"y":-10},{"panel":"b","series":"Ma₀=0.45","x":1.1,"y":-9},{"panel":"b","series":"Ma₀=0.45","x":1.11,"y":-8},{"panel":"b","series":"Ma₀=0.45","x":1.12,"y":-7},{"panel":"b","series":"Ma₀=0.45","x":1.13,"y":-6.5},
      {"panel":"c","series":"Ma₀=0","x":0,"y":0},{"panel":"c","series":"Ma₀=0","x":0.4,"y":0.394},{"panel":"c","series":"Ma₀=0","x":0.8,"y":0.788},{"panel":"c","series":"Ma₀=0","x":1.2,"y":1.182},{"panel":"c","series":"Ma₀=0","x":1.665,"y":1.644},
      {"panel":"c","series":"Ma₀=0.3","x":0,"y":0},{"panel":"c","series":"Ma₀=0.3","x":0.4,"y":0.396},{"panel":"c","series":"Ma₀=0.3","x":0.8,"y":0.796},{"panel":"c","series":"Ma₀=0.3","x":1.2,"y":1.195},{"panel":"c","series":"Ma₀=0.3","x":1.64,"y":1.634},
      {"panel":"c","series":"Ma₀=0.45","x":0,"y":0},{"panel":"c","series":"Ma₀=0.45","x":0.4,"y":0.398},{"panel":"c","series":"Ma₀=0.45","x":0.8,"y":0.805},{"panel":"c","series":"Ma₀=0.45","x":1,"y":1.01},{"panel":"c","series":"Ma₀=0.45","x":1.12,"y":1.13},
      {"panel":"d","series":"Ma₀=0","x":0,"y":0},{"panel":"d","series":"Ma₀=0","x":0.1,"y":-0.005},{"panel":"d","series":"Ma₀=0","x":0.2,"y":-0.02},{"panel":"d","series":"Ma₀=0","x":0.3,"y":-0.04},{"panel":"d","series":"Ma₀=0","x":0.4,"y":-0.07},{"panel":"d","series":"Ma₀=0","x":0.5,"y":-0.11},{"panel":"d","series":"Ma₀=0","x":0.6,"y":-0.16},{"panel":"d","series":"Ma₀=0","x":0.7,"y":-0.21},{"panel":"d","series":"Ma₀=0","x":0.8,"y":-0.265},{"panel":"d","series":"Ma₀=0","x":0.9,"y":-0.34},{"panel":"d","series":"Ma₀=0","x":1,"y":-0.41},{"panel":"d","series":"Ma₀=0","x":1.05,"y":-0.44},{"panel":"d","series":"Ma₀=0","x":1.1,"y":-0.465},{"panel":"d","series":"Ma₀=0","x":1.15,"y":-0.485},{"panel":"d","series":"Ma₀=0","x":1.2,"y":-0.5},{"panel":"d","series":"Ma₀=0","x":1.25,"y":-0.515},{"panel":"d","series":"Ma₀=0","x":1.3,"y":-0.54},{"panel":"d","series":"Ma₀=0","x":1.35,"y":-0.575},{"panel":"d","series":"Ma₀=0","x":1.4,"y":-0.61},{"panel":"d","series":"Ma₀=0","x":1.5,"y":-0.67},{"panel":"d","series":"Ma₀=0","x":1.6,"y":-0.73},{"panel":"d","series":"Ma₀=0","x":1.67,"y":-0.77},
      {"panel":"d","series":"Ma₀=0.3","x":0,"y":0},{"panel":"d","series":"Ma₀=0.3","x":0.1,"y":-0.004},{"panel":"d","series":"Ma₀=0.3","x":0.2,"y":-0.017},{"panel":"d","series":"Ma₀=0.3","x":0.3,"y":-0.035},{"panel":"d","series":"Ma₀=0.3","x":0.4,"y":-0.062},{"panel":"d","series":"Ma₀=0.3","x":0.5,"y":-0.095},{"panel":"d","series":"Ma₀=0.3","x":0.6,"y":-0.14},{"panel":"d","series":"Ma₀=0.3","x":0.7,"y":-0.2},{"panel":"d","series":"Ma₀=0.3","x":0.75,"y":-0.23},{"panel":"d","series":"Ma₀=0.3","x":0.8,"y":-0.27},{"panel":"d","series":"Ma₀=0.3","x":0.85,"y":-0.32},{"panel":"d","series":"Ma₀=0.3","x":0.9,"y":-0.38},{"panel":"d","series":"Ma₀=0.3","x":0.95,"y":-0.445},{"panel":"d","series":"Ma₀=0.3","x":1,"y":-0.505},{"panel":"d","series":"Ma₀=0.3","x":1.05,"y":-0.55},{"panel":"d","series":"Ma₀=0.3","x":1.1,"y":-0.58},{"panel":"d","series":"Ma₀=0.3","x":1.15,"y":-0.6},{"panel":"d","series":"Ma₀=0.3","x":1.2,"y":-0.61},{"panel":"d","series":"Ma₀=0.3","x":1.25,"y":-0.625},{"panel":"d","series":"Ma₀=0.3","x":1.3,"y":-0.66},{"panel":"d","series":"Ma₀=0.3","x":1.35,"y":-0.71},{"panel":"d","series":"Ma₀=0.3","x":1.4,"y":-0.76},{"panel":"d","series":"Ma₀=0.3","x":1.5,"y":-0.86},{"panel":"d","series":"Ma₀=0.3","x":1.6,"y":-0.945},{"panel":"d","series":"Ma₀=0.3","x":1.64,"y":-0.98},
      {"panel":"d","series":"Ma₀=0.45","x":0,"y":0},{"panel":"d","series":"Ma₀=0.45","x":0.1,"y":-0.005},{"panel":"d","series":"Ma₀=0.45","x":0.2,"y":-0.02},{"panel":"d","series":"Ma₀=0.45","x":0.3,"y":-0.04},{"panel":"d","series":"Ma₀=0.45","x":0.4,"y":-0.067},{"panel":"d","series":"Ma₀=0.45","x":0.5,"y":-0.1},{"panel":"d","series":"Ma₀=0.45","x":0.55,"y":-0.125},{"panel":"d","series":"Ma₀=0.45","x":0.6,"y":-0.175},{"panel":"d","series":"Ma₀=0.45","x":0.65,"y":-0.245},{"panel":"d","series":"Ma₀=0.45","x":0.7,"y":-0.32},{"panel":"d","series":"Ma₀=0.45","x":0.75,"y":-0.42},{"panel":"d","series":"Ma₀=0.45","x":0.8,"y":-0.525},{"panel":"d","series":"Ma₀=0.45","x":0.85,"y":-0.64},{"panel":"d","series":"Ma₀=0.45","x":0.9,"y":-0.755},{"panel":"d","series":"Ma₀=0.45","x":0.95,"y":-0.865},{"panel":"d","series":"Ma₀=0.45","x":1,"y":-0.97},{"panel":"d","series":"Ma₀=0.45","x":1.05,"y":-1.035},{"panel":"d","series":"Ma₀=0.45","x":1.1,"y":-1.085},{"panel":"d","series":"Ma₀=0.45","x":1.13,"y":-1.115},
      {"panel":"e","series":"Ma₀=0","x":0,"y":0.01},{"panel":"e","series":"Ma₀=0","x":0.1,"y":0.02},{"panel":"e","series":"Ma₀=0","x":0.2,"y":0.02},{"panel":"e","series":"Ma₀=0","x":0.3,"y":0.01},{"panel":"e","series":"Ma₀=0","x":0.4,"y":0.01},{"panel":"e","series":"Ma₀=0","x":0.5,"y":0},{"panel":"e","series":"Ma₀=0","x":0.6,"y":-0.01},{"panel":"e","series":"Ma₀=0","x":0.7,"y":-0.03},{"panel":"e","series":"Ma₀=0","x":0.8,"y":-0.06},{"panel":"e","series":"Ma₀=0","x":0.85,"y":-0.1},{"panel":"e","series":"Ma₀=0","x":0.88,"y":-0.08},{"panel":"e","series":"Ma₀=0","x":0.9,"y":-0.02},{"panel":"e","series":"Ma₀=0","x":0.92,"y":0.06},{"panel":"e","series":"Ma₀=0","x":0.94,"y":0.18},{"panel":"e","series":"Ma₀=0","x":0.96,"y":0.32},{"panel":"e","series":"Ma₀=0","x":0.98,"y":0.46},{"panel":"e","series":"Ma₀=0","x":1,"y":0.58},{"panel":"e","series":"Ma₀=0","x":1.03,"y":0.71},{"panel":"e","series":"Ma₀=0","x":1.06,"y":0.82},{"panel":"e","series":"Ma₀=0","x":1.1,"y":0.94},{"panel":"e","series":"Ma₀=0","x":1.15,"y":1.04},{"panel":"e","series":"Ma₀=0","x":1.2,"y":1.09},{"panel":"e","series":"Ma₀=0","x":1.25,"y":1.12},{"panel":"e","series":"Ma₀=0","x":1.3,"y":1.14},{"panel":"e","series":"Ma₀=0","x":1.4,"y":1.17},{"panel":"e","series":"Ma₀=0","x":1.5,"y":1.22},{"panel":"e","series":"Ma₀=0","x":1.6,"y":1.26},{"panel":"e","series":"Ma₀=0","x":1.67,"y":1.28},
      {"panel":"e","series":"Ma₀=0.3","x":0,"y":0},{"panel":"e","series":"Ma₀=0.3","x":0.1,"y":0.02},{"panel":"e","series":"Ma₀=0.3","x":0.2,"y":0.03},{"panel":"e","series":"Ma₀=0.3","x":0.3,"y":0.04},{"panel":"e","series":"Ma₀=0.3","x":0.4,"y":0.04},{"panel":"e","series":"Ma₀=0.3","x":0.5,"y":0.04},{"panel":"e","series":"Ma₀=0.3","x":0.6,"y":0.04},{"panel":"e","series":"Ma₀=0.3","x":0.7,"y":0.05},{"panel":"e","series":"Ma₀=0.3","x":0.8,"y":0.04},{"panel":"e","series":"Ma₀=0.3","x":0.85,"y":0.02},{"panel":"e","series":"Ma₀=0.3","x":0.88,"y":-0.02},{"panel":"e","series":"Ma₀=0.3","x":0.9,"y":-0.01},{"panel":"e","series":"Ma₀=0.3","x":0.93,"y":0.05},{"panel":"e","series":"Ma₀=0.3","x":0.96,"y":0.15},{"panel":"e","series":"Ma₀=0.3","x":1,"y":0.27},{"panel":"e","series":"Ma₀=0.3","x":1.05,"y":0.42},{"panel":"e","series":"Ma₀=0.3","x":1.1,"y":0.53},{"panel":"e","series":"Ma₀=0.3","x":1.15,"y":0.6},{"panel":"e","series":"Ma₀=0.3","x":1.2,"y":0.66},{"panel":"e","series":"Ma₀=0.3","x":1.3,"y":0.77},{"panel":"e","series":"Ma₀=0.3","x":1.4,"y":0.86},{"panel":"e","series":"Ma₀=0.3","x":1.5,"y":0.96},{"panel":"e","series":"Ma₀=0.3","x":1.6,"y":1.06},{"panel":"e","series":"Ma₀=0.3","x":1.64,"y":1.12},
      {"panel":"e","series":"Ma₀=0.45","x":0,"y":0},{"panel":"e","series":"Ma₀=0.45","x":0.1,"y":0.03},{"panel":"e","series":"Ma₀=0.45","x":0.2,"y":0.05},{"panel":"e","series":"Ma₀=0.45","x":0.3,"y":0.05},{"panel":"e","series":"Ma₀=0.45","x":0.4,"y":0.03},{"panel":"e","series":"Ma₀=0.45","x":0.5,"y":0.01},{"panel":"e","series":"Ma₀=0.45","x":0.6,"y":-0.02},{"panel":"e","series":"Ma₀=0.45","x":0.65,"y":-0.07},{"panel":"e","series":"Ma₀=0.45","x":0.7,"y":-0.15},{"panel":"e","series":"Ma₀=0.45","x":0.75,"y":-0.27},{"panel":"e","series":"Ma₀=0.45","x":0.8,"y":-0.42},{"panel":"e","series":"Ma₀=0.45","x":0.83,"y":-0.6},{"panel":"e","series":"Ma₀=0.45","x":0.87,"y":-0.85},{"panel":"e","series":"Ma₀=0.45","x":0.9,"y":-1.03},{"panel":"e","series":"Ma₀=0.45","x":0.95,"y":-1.48},{"panel":"e","series":"Ma₀=0.45","x":1,"y":-1.93},{"panel":"e","series":"Ma₀=0.45","x":1.05,"y":-2.37},{"panel":"e","series":"Ma₀=0.45","x":1.1,"y":-2.76},{"panel":"e","series":"Ma₀=0.45","x":1.14,"y":-3.09},
      {"panel":"f","series":"Ma₀=0","x":0,"y":0},{"panel":"f","series":"Ma₀=0","x":0.1,"y":0.05},{"panel":"f","series":"Ma₀=0","x":0.2,"y":0.1},{"panel":"f","series":"Ma₀=0","x":0.3,"y":0.2},{"panel":"f","series":"Ma₀=0","x":0.4,"y":0.35},{"panel":"f","series":"Ma₀=0","x":0.5,"y":0.6},{"panel":"f","series":"Ma₀=0","x":0.6,"y":1.1},{"panel":"f","series":"Ma₀=0","x":0.7,"y":1.95},{"panel":"f","series":"Ma₀=0","x":0.75,"y":2.5},{"panel":"f","series":"Ma₀=0","x":0.8,"y":3.2},{"panel":"f","series":"Ma₀=0","x":0.85,"y":4.2},{"panel":"f","series":"Ma₀=0","x":0.9,"y":5.4},{"panel":"f","series":"Ma₀=0","x":0.94,"y":6},{"panel":"f","series":"Ma₀=0","x":0.97,"y":5.6},{"panel":"f","series":"Ma₀=0","x":1,"y":4.3},{"panel":"f","series":"Ma₀=0","x":1.05,"y":2.2},{"panel":"f","series":"Ma₀=0","x":1.1,"y":0},{"panel":"f","series":"Ma₀=0","x":1.15,"y":-2.5},{"panel":"f","series":"Ma₀=0","x":1.2,"y":-4.8},{"panel":"f","series":"Ma₀=0","x":1.3,"y":-8.9},{"panel":"f","series":"Ma₀=0","x":1.4,"y":-12.8},{"panel":"f","series":"Ma₀=0","x":1.5,"y":-16.7},{"panel":"f","series":"Ma₀=0","x":1.6,"y":-20.5},{"panel":"f","series":"Ma₀=0","x":1.67,"y":-23},
      {"panel":"f","series":"Ma₀=0.3","x":0,"y":0},{"panel":"f","series":"Ma₀=0.3","x":0.2,"y":0},{"panel":"f","series":"Ma₀=0.3","x":0.4,"y":0},{"panel":"f","series":"Ma₀=0.3","x":0.6,"y":-0.1},{"panel":"f","series":"Ma₀=0.3","x":0.8,"y":-0.2},{"panel":"f","series":"Ma₀=0.3","x":1,"y":-0.3},{"panel":"f","series":"Ma₀=0.3","x":1.1,"y":-0.45},{"panel":"f","series":"Ma₀=0.3","x":1.2,"y":-0.6},{"panel":"f","series":"Ma₀=0.3","x":1.3,"y":-0.75},{"panel":"f","series":"Ma₀=0.3","x":1.4,"y":-0.9},{"panel":"f","series":"Ma₀=0.3","x":1.5,"y":-1.1},{"panel":"f","series":"Ma₀=0.3","x":1.6,"y":-1.5},{"panel":"f","series":"Ma₀=0.3","x":1.64,"y":-1.75},
      {"panel":"f","series":"Ma₀=0.45","x":0,"y":0},{"panel":"f","series":"Ma₀=0.45","x":0.2,"y":0},{"panel":"f","series":"Ma₀=0.45","x":0.3,"y":-0.05},{"panel":"f","series":"Ma₀=0.45","x":0.4,"y":-0.15},{"panel":"f","series":"Ma₀=0.45","x":0.5,"y":-0.5},{"panel":"f","series":"Ma₀=0.45","x":0.6,"y":-1.2},{"panel":"f","series":"Ma₀=0.45","x":0.7,"y":-2.5},{"panel":"f","series":"Ma₀=0.45","x":0.75,"y":-3.5},{"panel":"f","series":"Ma₀=0.45","x":0.8,"y":-4.6},{"panel":"f","series":"Ma₀=0.45","x":0.82,"y":-5},{"panel":"f","series":"Ma₀=0.45","x":0.86,"y":-6.5},{"panel":"f","series":"Ma₀=0.45","x":0.9,"y":-8},{"panel":"f","series":"Ma₀=0.45","x":0.95,"y":-10},{"panel":"f","series":"Ma₀=0.45","x":1,"y":-14.9},{"panel":"f","series":"Ma₀=0.45","x":1.03,"y":-18},{"panel":"f","series":"Ma₀=0.45","x":1.06,"y":-20.9},{"panel":"f","series":"Ma₀=0.45","x":1.09,"y":-24.2},{"panel":"f","series":"Ma₀=0.45","x":1.12,"y":-27.3},{"panel":"f","series":"Ma₀=0.45","x":1.15,"y":-29.9},
      {"panel":"g","series":"Ma₀=0","x":0,"y":0},{"panel":"g","series":"Ma₀=0","x":0.1,"y":0.05},{"panel":"g","series":"Ma₀=0","x":0.2,"y":0.2},{"panel":"g","series":"Ma₀=0","x":0.3,"y":0.5},{"panel":"g","series":"Ma₀=0","x":0.4,"y":1},{"panel":"g","series":"Ma₀=0","x":0.5,"y":2},{"panel":"g","series":"Ma₀=0","x":0.6,"y":3.6},{"panel":"g","series":"Ma₀=0","x":0.7,"y":6.3},{"panel":"g","series":"Ma₀=0","x":0.75,"y":8.2},{"panel":"g","series":"Ma₀=0","x":0.8,"y":10.6},{"panel":"g","series":"Ma₀=0","x":0.85,"y":13.2},{"panel":"g","series":"Ma₀=0","x":0.9,"y":16.2},{"panel":"g","series":"Ma₀=0","x":0.95,"y":18.8},{"panel":"g","series":"Ma₀=0","x":0.98,"y":19.5},{"panel":"g","series":"Ma₀=0","x":1,"y":19.7},{"panel":"g","series":"Ma₀=0","x":1.05,"y":19.6},{"panel":"g","series":"Ma₀=0","x":1.1,"y":19.2},{"panel":"g","series":"Ma₀=0","x":1.15,"y":18.6},{"panel":"g","series":"Ma₀=0","x":1.2,"y":17.8},{"panel":"g","series":"Ma₀=0","x":1.25,"y":16.8},{"panel":"g","series":"Ma₀=0","x":1.3,"y":16},{"panel":"g","series":"Ma₀=0","x":1.4,"y":14.9},{"panel":"g","series":"Ma₀=0","x":1.5,"y":13.8},{"panel":"g","series":"Ma₀=0","x":1.6,"y":12.6},{"panel":"g","series":"Ma₀=0","x":1.67,"y":11.75},
      {"panel":"g","series":"Ma₀=0.3","x":0,"y":0},{"panel":"g","series":"Ma₀=0.3","x":0.2,"y":0},{"panel":"g","series":"Ma₀=0.3","x":0.4,"y":-0.15},{"panel":"g","series":"Ma₀=0.3","x":0.6,"y":-0.3},{"panel":"g","series":"Ma₀=0.3","x":0.8,"y":-0.5},{"panel":"g","series":"Ma₀=0.3","x":1,"y":-0.9},{"panel":"g","series":"Ma₀=0.3","x":1.2,"y":-1},{"panel":"g","series":"Ma₀=0.3","x":1.4,"y":-1.2},{"panel":"g","series":"Ma₀=0.3","x":1.5,"y":-1.4},{"panel":"g","series":"Ma₀=0.3","x":1.6,"y":-1.55},{"panel":"g","series":"Ma₀=0.3","x":1.64,"y":-1.62},
      {"panel":"g","series":"Ma₀=0.45","x":0,"y":0},{"panel":"g","series":"Ma₀=0.45","x":0.1,"y":-0.05},{"panel":"g","series":"Ma₀=0.45","x":0.2,"y":-0.3},{"panel":"g","series":"Ma₀=0.45","x":0.3,"y":-0.6},{"panel":"g","series":"Ma₀=0.45","x":0.4,"y":-1.05},{"panel":"g","series":"Ma₀=0.45","x":0.5,"y":-1.9},{"panel":"g","series":"Ma₀=0.45","x":0.6,"y":-3},{"panel":"g","series":"Ma₀=0.45","x":0.7,"y":-4.8},{"panel":"g","series":"Ma₀=0.45","x":0.8,"y":-6.7},{"panel":"g","series":"Ma₀=0.45","x":0.9,"y":-8.2},{"panel":"g","series":"Ma₀=0.45","x":1,"y":-9.3},{"panel":"g","series":"Ma₀=0.45","x":1.05,"y":-9.7},{"panel":"g","series":"Ma₀=0.45","x":1.12,"y":-10.2},
      {"panel":"h","series":"Ma₀=0","x":0,"y":0},{"panel":"h","series":"Ma₀=0","x":0.2,"y":-0.01},{"panel":"h","series":"Ma₀=0","x":0.3,"y":-0.02},{"panel":"h","series":"Ma₀=0","x":0.4,"y":-0.03},{"panel":"h","series":"Ma₀=0","x":0.5,"y":-0.05},{"panel":"h","series":"Ma₀=0","x":0.6,"y":-0.08},{"panel":"h","series":"Ma₀=0","x":0.7,"y":-0.12},{"panel":"h","series":"Ma₀=0","x":0.8,"y":-0.16},{"panel":"h","series":"Ma₀=0","x":0.9,"y":-0.2},{"panel":"h","series":"Ma₀=0","x":1,"y":-0.255},{"panel":"h","series":"Ma₀=0","x":1.1,"y":-0.29},{"panel":"h","series":"Ma₀=0","x":1.2,"y":-0.31},{"panel":"h","series":"Ma₀=0","x":1.3,"y":-0.33},{"panel":"h","series":"Ma₀=0","x":1.4,"y":-0.356},{"panel":"h","series":"Ma₀=0","x":1.5,"y":-0.38},{"panel":"h","series":"Ma₀=0","x":1.6,"y":-0.41},{"panel":"h","series":"Ma₀=0","x":1.66,"y":-0.43},
      {"panel":"h","series":"Ma₀=0.3","x":0,"y":0},{"panel":"h","series":"Ma₀=0.3","x":0.2,"y":0.01},{"panel":"h","series":"Ma₀=0.3","x":0.3,"y":0.02},{"panel":"h","series":"Ma₀=0.3","x":0.4,"y":0.025},{"panel":"h","series":"Ma₀=0.3","x":0.5,"y":0.04},{"panel":"h","series":"Ma₀=0.3","x":0.6,"y":0.06},{"panel":"h","series":"Ma₀=0.3","x":0.7,"y":0.09},{"panel":"h","series":"Ma₀=0.3","x":0.8,"y":0.135},{"panel":"h","series":"Ma₀=0.3","x":0.9,"y":0.18},{"panel":"h","series":"Ma₀=0.3","x":1,"y":0.23},{"panel":"h","series":"Ma₀=0.3","x":1.1,"y":0.29},{"panel":"h","series":"Ma₀=0.3","x":1.2,"y":0.36},{"panel":"h","series":"Ma₀=0.3","x":1.3,"y":0.41},{"panel":"h","series":"Ma₀=0.3","x":1.4,"y":0.47},{"panel":"h","series":"Ma₀=0.3","x":1.5,"y":0.57},{"panel":"h","series":"Ma₀=0.3","x":1.6,"y":0.72},{"panel":"h","series":"Ma₀=0.3","x":1.64,"y":0.79},
      {"panel":"h","series":"Ma₀=0.45","x":0,"y":0},{"panel":"h","series":"Ma₀=0.45","x":0.1,"y":0.005},{"panel":"h","series":"Ma₀=0.45","x":0.2,"y":0.03},{"panel":"h","series":"Ma₀=0.45","x":0.3,"y":0.08},{"panel":"h","series":"Ma₀=0.45","x":0.4,"y":0.16},{"panel":"h","series":"Ma₀=0.45","x":0.5,"y":0.28},{"panel":"h","series":"Ma₀=0.45","x":0.55,"y":0.37},{"panel":"h","series":"Ma₀=0.45","x":0.6,"y":0.5},{"panel":"h","series":"Ma₀=0.45","x":0.65,"y":0.66},{"panel":"h","series":"Ma₀=0.45","x":0.7,"y":0.85},{"panel":"h","series":"Ma₀=0.45","x":0.8,"y":1.27},{"panel":"h","series":"Ma₀=0.45","x":0.9,"y":1.71},{"panel":"h","series":"Ma₀=0.45","x":1,"y":2.11},{"panel":"h","series":"Ma₀=0.45","x":1.1,"y":2.42},{"panel":"h","series":"Ma₀=0.45","x":1.13,"y":2.53}
    ]
  },
  "concat": [
    {
      "width": 1300, "height": 965,
      "title": {"text": "(a)", "orient": "bottom", "offset": 8, "frame": "group"},
      "layer": [
        {"data": {"values": [{"xr": 1}]}, "mark": {"type": "rule", "color": "#8a8a8a", "strokeWidth": 2, "strokeDash": [5, 4]}, "encoding": {"x": {"field": "xr", "type": "quantitative", "title": "x/l"}}},
        {
          "transform": [{"filter": "datum.panel == 'a'"}],
          "mark": {"type": "line", "strokeWidth": 4.5},
          "encoding": {
            "x": {"field": "x", "type": "quantitative", "scale": {"domain": [0, 1.8], "nice": false, "zero": false},
              "axis": {"title": "x/l", "values": [0,0.1,0.2,0.3,0.4,0.5,0.6,0.7,0.8,0.9,1,1.1,1.2,1.3,1.4,1.5,1.6,1.7,1.8], "tickSize": {"condition": {"test": "abs(datum.value*5-round(datum.value*5))<0.01", "value": -16}, "value": -11}, "labelExpr": "abs(datum.value*5-round(datum.value*5))>0.01 ? '' : (abs(datum.value)<1e-6 ? '0' : format(datum.value, '.1f'))"}},
            "y": {"field": "y", "type": "quantitative", "scale": {"domain": [-15, 30], "nice": false, "zero": false},
              "axis": {"title": "Cₗ/10⁻³", "titleX": -191, "titleY": 482, "values": [-15,-10,-5,0,5,10,15,20,25,30], "tickSize": {"condition": {"test": "datum.value % 10 == 0", "value": -17}, "value": -11}, "labelExpr": "datum.value % 10 == 0 ? format(datum.value, 'd') : ''"}},
            "color": {"field": "series", "type": "nominal", "scale": {"domain": ["Ma₀=0", "Ma₀=0.3", "Ma₀=0.45"], "range": ["#000000", "#d42a4e", "#2626b4"]}, "legend": {"title": null}},
            "strokeDash": {"field": "series", "type": "nominal", "scale": {"domain": ["Ma₀=0", "Ma₀=0.3", "Ma₀=0.45"], "range": [[1, 0], [18, 8, 4, 8], [14, 8]]}, "legend": {"title": null}}
          }
        }
      ]
    },
    {
      "width": 1300, "height": 965,
      "title": {"text": "(b)", "orient": "bottom", "offset": 8, "frame": "group"},
      "layer": [
        {"data": {"values": [{"xr": 1}]}, "mark": {"type": "rule", "color": "#8a8a8a", "strokeWidth": 2, "strokeDash": [5, 4]}, "encoding": {"x": {"field": "xr", "type": "quantitative", "title": "x/l"}}},
        {
          "transform": [{"filter": "datum.panel == 'b'"}],
          "mark": {"type": "line", "strokeWidth": 4.5},
          "encoding": {
            "x": {"field": "x", "type": "quantitative", "scale": {"domain": [0, 1.8], "nice": false, "zero": false},
              "axis": {"title": "x/l", "values": [0,0.1,0.2,0.3,0.4,0.5,0.6,0.7,0.8,0.9,1,1.1,1.2,1.3,1.4,1.5,1.6,1.7,1.8], "tickSize": {"condition": {"test": "abs(datum.value*5-round(datum.value*5))<0.01", "value": -16}, "value": -11}, "labelExpr": "abs(datum.value*5-round(datum.value*5))>0.01 ? '' : (abs(datum.value)<1e-6 ? '0' : format(datum.value, '.1f'))"}},
            "y": {"field": "y", "type": "quantitative", "scale": {"domain": [-40, 30], "nice": false, "zero": false},
              "axis": {"title": "Cd/10⁻³", "titleX": -208, "titleY": 482, "values": [-40,-35,-30,-25,-20,-15,-10,-5,0,5,10,15,20,25,30], "tickSize": {"condition": {"test": "datum.value % 10 == 0", "value": -17}, "value": -11}, "labelExpr": "datum.value % 10 == 0 ? format(datum.value, 'd') : ''"}},
            "color": {"field": "series", "type": "nominal", "scale": {"domain": ["Ma₀=0", "Ma₀=0.3", "Ma₀=0.45"], "range": ["#000000", "#d42a4e", "#2626b4"]}, "legend": {"title": null}},
            "strokeDash": {"field": "series", "type": "nominal", "scale": {"domain": ["Ma₀=0", "Ma₀=0.3", "Ma₀=0.45"], "range": [[1, 0], [18, 8, 4, 8], [14, 8]]}, "legend": {"title": null}}
          }
        }
      ]
    },
    {
      "width": 1300, "height": 1001,
      "title": {"text": "(c)", "orient": "bottom", "offset": 8, "frame": "group"},
      "transform": [{"filter": "datum.panel == 'c'"}],
      "mark": {"type": "line", "strokeWidth": 4.5},
      "encoding": {
        "x": {"field": "x", "type": "quantitative", "scale": {"domain": [0, 1.8], "nice": false, "zero": false},
          "axis": {"title": "x/l", "values": [0,0.1,0.2,0.3,0.4,0.5,0.6,0.7,0.8,0.9,1,1.1,1.2,1.3,1.4,1.5,1.6,1.7,1.8], "tickSize": {"condition": {"test": "abs(datum.value*5-round(datum.value*5))<0.01", "value": -16}, "value": -11}, "labelExpr": "abs(datum.value*5-round(datum.value*5))>0.01 ? '' : (abs(datum.value)<1e-6 ? '0' : format(datum.value, '.1f'))"}},
        "y": {"field": "y", "type": "quantitative", "scale": {"domain": [-0.2, 1.8], "nice": false, "zero": false},
          "axis": {"title": "Δx/l", "titleFontWeight": "normal", "titleX": -191, "titleY": 500, "values": [-0.2,-0.1,0,0.1,0.2,0.3,0.4,0.5,0.6,0.7,0.8,0.9,1,1.1,1.2,1.3,1.4,1.5,1.6,1.7,1.8], "tickSize": {"condition": {"test": "abs(datum.value*5-round(datum.value*5))<0.01", "value": -17}, "value": -11}, "labelExpr": "abs(datum.value*5-round(datum.value*5))>0.01 ? '' : (abs(datum.value)<1e-6 ? '0' : format(datum.value, '.1f'))"}},
        "color": {"field": "series", "type": "nominal", "scale": {"domain": ["Ma₀=0", "Ma₀=0.3", "Ma₀=0.45"], "range": ["#000000", "#d42a4e", "#2626b4"]}, "legend": {"title": null}},
        "strokeDash": {"field": "series", "type": "nominal", "scale": {"domain": ["Ma₀=0", "Ma₀=0.3", "Ma₀=0.45"], "range": [[1, 0], [18, 8, 4, 8], [14, 8]]}, "legend": {"title": null}}
      }
    },
    {
      "width": 1300, "height": 1001,
      "title": {"text": "(d)", "orient": "bottom", "offset": 8, "frame": "group"},
      "transform": [{"filter": "datum.panel == 'd'"}],
      "mark": {"type": "line", "strokeWidth": 4.5},
      "encoding": {
        "x": {"field": "x", "type": "quantitative", "scale": {"domain": [0, 1.8], "nice": false, "zero": false},
          "axis": {"title": "x/l", "values": [0,0.1,0.2,0.3,0.4,0.5,0.6,0.7,0.8,0.9,1,1.1,1.2,1.3,1.4,1.5,1.6,1.7,1.8], "tickSize": {"condition": {"test": "abs(datum.value*5-round(datum.value*5))<0.01", "value": -16}, "value": -11}, "labelExpr": "abs(datum.value*5-round(datum.value*5))>0.01 ? '' : (abs(datum.value)<1e-6 ? '0' : format(datum.value, '.1f'))"}},
        "y": {"field": "y", "type": "quantitative", "scale": {"domain": [-1.3, 0.1], "nice": false, "zero": false},
          "axis": {"title": "(Δy/l)/10⁻²", "titleX": -208, "titleY": 500, "values": [-1.3,-1.2,-1.1,-1,-0.9,-0.8,-0.7,-0.6,-0.5,-0.4,-0.3,-0.2,-0.1,0,0.1], "tickSize": {"condition": {"test": "abs(datum.value*5-round(datum.value*5))<0.01", "value": -17}, "value": -11}, "labelExpr": "abs(datum.value*5-round(datum.value*5))>0.01 ? '' : (abs(datum.value)<1e-6 ? '0' : format(datum.value, '.1f'))"}},
        "color": {"field": "series", "type": "nominal", "scale": {"domain": ["Ma₀=0", "Ma₀=0.3", "Ma₀=0.45"], "range": ["#000000", "#d42a4e", "#2626b4"]}, "legend": {"title": null}},
        "strokeDash": {"field": "series", "type": "nominal", "scale": {"domain": ["Ma₀=0", "Ma₀=0.3", "Ma₀=0.45"], "range": [[1, 0], [18, 8, 4, 8], [14, 8]]}, "legend": {"title": null}}
      }
    },
    {
      "width": 1300, "height": 969,
      "title": {"text": "(e)", "orient": "bottom", "offset": 8, "frame": "group"},
      "transform": [{"filter": "datum.panel == 'e'"}],
      "mark": {"type": "line", "strokeWidth": 4.5},
      "encoding": {
        "x": {"field": "x", "type": "quantitative", "scale": {"domain": [0, 1.8], "nice": false, "zero": false},
          "axis": {"title": "x/l", "values": [0,0.1,0.2,0.3,0.4,0.5,0.6,0.7,0.8,0.9,1,1.1,1.2,1.3,1.4,1.5,1.6,1.7,1.8], "tickSize": {"condition": {"test": "abs(datum.value*5-round(datum.value*5))<0.01", "value": -16}, "value": -11}, "labelExpr": "abs(datum.value*5-round(datum.value*5))>0.01 ? '' : (abs(datum.value)<1e-6 ? '0' : format(datum.value, '.1f'))"}},
        "y": {"field": "y", "type": "quantitative", "scale": {"domain": [-3.5, 1.5], "nice": false, "zero": false},
          "axis": {"title": "(Δz/l)/10⁻³", "titleX": -191, "titleY": 484, "values": [-3.5,-3,-2.5,-2,-1.5,-1,-0.5,0,0.5,1,1.5], "tickSize": {"condition": {"test": "abs(datum.value-round(datum.value))<0.01", "value": -17}, "value": -11}, "labelExpr": "abs(datum.value-round(datum.value))>0.01 ? '' : format(datum.value, 'd')"}},
        "color": {"field": "series", "type": "nominal", "scale": {"domain": ["Ma₀=0", "Ma₀=0.3", "Ma₀=0.45"], "range": ["#000000", "#d42a4e", "#2626b4"]}, "legend": {"title": null}},
        "strokeDash": {"field": "series", "type": "nominal", "scale": {"domain": ["Ma₀=0", "Ma₀=0.3", "Ma₀=0.45"], "range": [[1, 0], [18, 8, 4, 8], [14, 8]]}, "legend": {"title": null}}
      }
    },
    {
      "width": 1300, "height": 969,
      "title": {"text": "(f)", "orient": "bottom", "offset": 8, "frame": "group"},
      "transform": [{"filter": "datum.panel == 'f'"}],
      "mark": {"type": "line", "strokeWidth": 4.5},
      "encoding": {
        "x": {"field": "x", "type": "quantitative", "scale": {"domain": [0, 1.8], "nice": false, "zero": false},
          "axis": {"title": "x/l", "values": [0,0.1,0.2,0.3,0.4,0.5,0.6,0.7,0.8,0.9,1,1.1,1.2,1.3,1.4,1.5,1.6,1.7,1.8], "tickSize": {"condition": {"test": "abs(datum.value*5-round(datum.value*5))<0.01", "value": -16}, "value": -11}, "labelExpr": "abs(datum.value*5-round(datum.value*5))>0.01 ? '' : (abs(datum.value)<1e-6 ? '0' : format(datum.value, '.1f'))"}},
        "y": {"field": "y", "type": "quantitative", "scale": {"domain": [-35, 10], "nice": false, "zero": false},
          "axis": {"title": "γₓ/10⁻³ rad", "titleX": -208, "titleY": 484, "values": [-35,-32.5,-30,-27.5,-25,-22.5,-20,-17.5,-15,-12.5,-10,-7.5,-5,-2.5,0,2.5,5,7.5,10], "tickSize": {"condition": {"test": "abs(datum.value/5-round(datum.value/5))<0.01", "value": -17}, "value": -11}, "labelExpr": "abs(datum.value/5-round(datum.value/5))>0.01 ? '' : format(datum.value, 'd')"}},
        "color": {"field": "series", "type": "nominal", "scale": {"domain": ["Ma₀=0", "Ma₀=0.3", "Ma₀=0.45"], "range": ["#000000", "#d42a4e", "#2626b4"]}, "legend": {"title": null}},
        "strokeDash": {"field": "series", "type": "nominal", "scale": {"domain": ["Ma₀=0", "Ma₀=0.3", "Ma₀=0.45"], "range": [[1, 0], [18, 8, 4, 8], [14, 8]]}, "legend": {"title": null}}
      }
    },
    {
      "width": 1300, "height": 993,
      "title": {"text": "(g)", "orient": "bottom", "offset": 8, "frame": "group"},
      "transform": [{"filter": "datum.panel == 'g'"}],
      "mark": {"type": "line", "strokeWidth": 4.5},
      "encoding": {
        "x": {"field": "x", "type": "quantitative", "scale": {"domain": [0, 1.8], "nice": false, "zero": false},
          "axis": {"title": "x/l", "values": [0,0.1,0.2,0.3,0.4,0.5,0.6,0.7,0.8,0.9,1,1.1,1.2,1.3,1.4,1.5,1.6,1.7,1.8], "tickSize": {"condition": {"test": "abs(datum.value*5-round(datum.value*5))<0.01", "value": -16}, "value": -11}, "labelExpr": "abs(datum.value*5-round(datum.value*5))>0.01 ? '' : (abs(datum.value)<1e-6 ? '0' : format(datum.value, '.1f'))"}},
        "y": {"field": "y", "type": "quantitative", "scale": {"domain": [-12.5, 22.5], "nice": false, "zero": false},
          "axis": {"title": "γy/10⁻² rad", "titleX": -191, "titleY": 496, "values": [-12.5,-10,-7.5,-5,-2.5,0,2.5,5,7.5,10,12.5,15,17.5,20,22.5], "tickSize": {"condition": {"test": "abs(datum.value/5-round(datum.value/5))<0.01", "value": -17}, "value": -11}, "labelExpr": "abs(datum.value/5-round(datum.value/5))>0.01 ? '' : format(datum.value, 'd')"}},
        "color": {"field": "series", "type": "nominal", "scale": {"domain": ["Ma₀=0", "Ma₀=0.3", "Ma₀=0.45"], "range": ["#000000", "#d42a4e", "#2626b4"]}, "legend": {"title": null}},
        "strokeDash": {"field": "series", "type": "nominal", "scale": {"domain": ["Ma₀=0", "Ma₀=0.3", "Ma₀=0.45"], "range": [[1, 0], [18, 8, 4, 8], [14, 8]]}, "legend": {"title": null}}
      }
    },
    {
      "width": 1300, "height": 993,
      "title": {"text": "(h)", "orient": "bottom", "offset": 8, "frame": "group"},
      "transform": [{"filter": "datum.panel == 'h'"}],
      "mark": {"type": "line", "strokeWidth": 4.5},
      "encoding": {
        "x": {"field": "x", "type": "quantitative", "scale": {"domain": [0, 1.8], "nice": false, "zero": false},
          "axis": {"title": "x/l", "values": [0,0.1,0.2,0.3,0.4,0.5,0.6,0.7,0.8,0.9,1,1.1,1.2,1.3,1.4,1.5,1.6,1.7,1.8], "tickSize": {"condition": {"test": "abs(datum.value*5-round(datum.value*5))<0.01", "value": -16}, "value": -11}, "labelExpr": "abs(datum.value*5-round(datum.value*5))>0.01 ? '' : (abs(datum.value)<1e-6 ? '0' : format(datum.value, '.1f'))"}},
        "y": {"field": "y", "type": "quantitative", "scale": {"domain": [-0.5, 3], "nice": false, "zero": false},
          "axis": {"title": "γz/rad", "titleFontWeight": "normal", "titleX": -220, "titleY": 496, "values": [-0.5,-0.25,0,0.25,0.5,0.75,1,1.25,1.5,1.75,2,2.25,2.5,2.75,3], "tickSize": {"condition": {"test": "abs(datum.value*2-round(datum.value*2))<0.01", "value": -17}, "value": -11}, "labelExpr": "abs(datum.value*2-round(datum.value*2))>0.01 ? '' : (abs(datum.value)<1e-6 ? '0' : format(datum.value, '.1f'))"}},
        "color": {"field": "series", "type": "nominal", "scale": {"domain": ["Ma₀=0", "Ma₀=0.3", "Ma₀=0.45"], "range": ["#000000", "#d42a4e", "#2626b4"]}, "legend": {"title": null}},
        "strokeDash": {"field": "series", "type": "nominal", "scale": {"domain": ["Ma₀=0", "Ma₀=0.3", "Ma₀=0.45"], "range": [[1, 0], [18, 8, 4, 8], [14, 8]]}, "legend": {"title": null}}
      }
    }
  ],
  "config": {
    "view": {"stroke": null},
    "font": "Liberation Serif",
    "axis": {
      "grid": false,
      "domainColor": "#000000", "domainWidth": 3.5,
      "tickColor": "#000000", "tickWidth": 3,
      "labelFont": "Liberation Serif", "labelFontSize": 62, "labelColor": "#000000",
      "labelFlush": false, "labelOverlap": false,
      "titleFont": "Liberation Serif", "titleFontSize": 64, "titleColor": "#000000"
    },
    "axisX": {"labelPadding": 32, "titlePadding": 16, "titleFontStyle": "italic", "titleFontWeight": "normal"},
    "axisY": {"labelPadding": 42, "titleFontWeight": "bold", "titleBaseline": "middle", "titleAngle": -90},
    "legend": {
      "orient": "none", "legendX": 877, "legendY": -150, "direction": "horizontal",
      "symbolType": "stroke", "symbolSize": 15625, "symbolStrokeWidth": 4.5,
      "labelFont": "Liberation Serif", "labelFontSize": 64, "labelColor": "#000000",
      "labelOffset": 14, "columnPadding": 110, "labelLimit": 0
    },
    "title": {"font": "Liberation Serif", "fontSize": 62, "fontWeight": "normal", "color": "#000000"}
  }
}
